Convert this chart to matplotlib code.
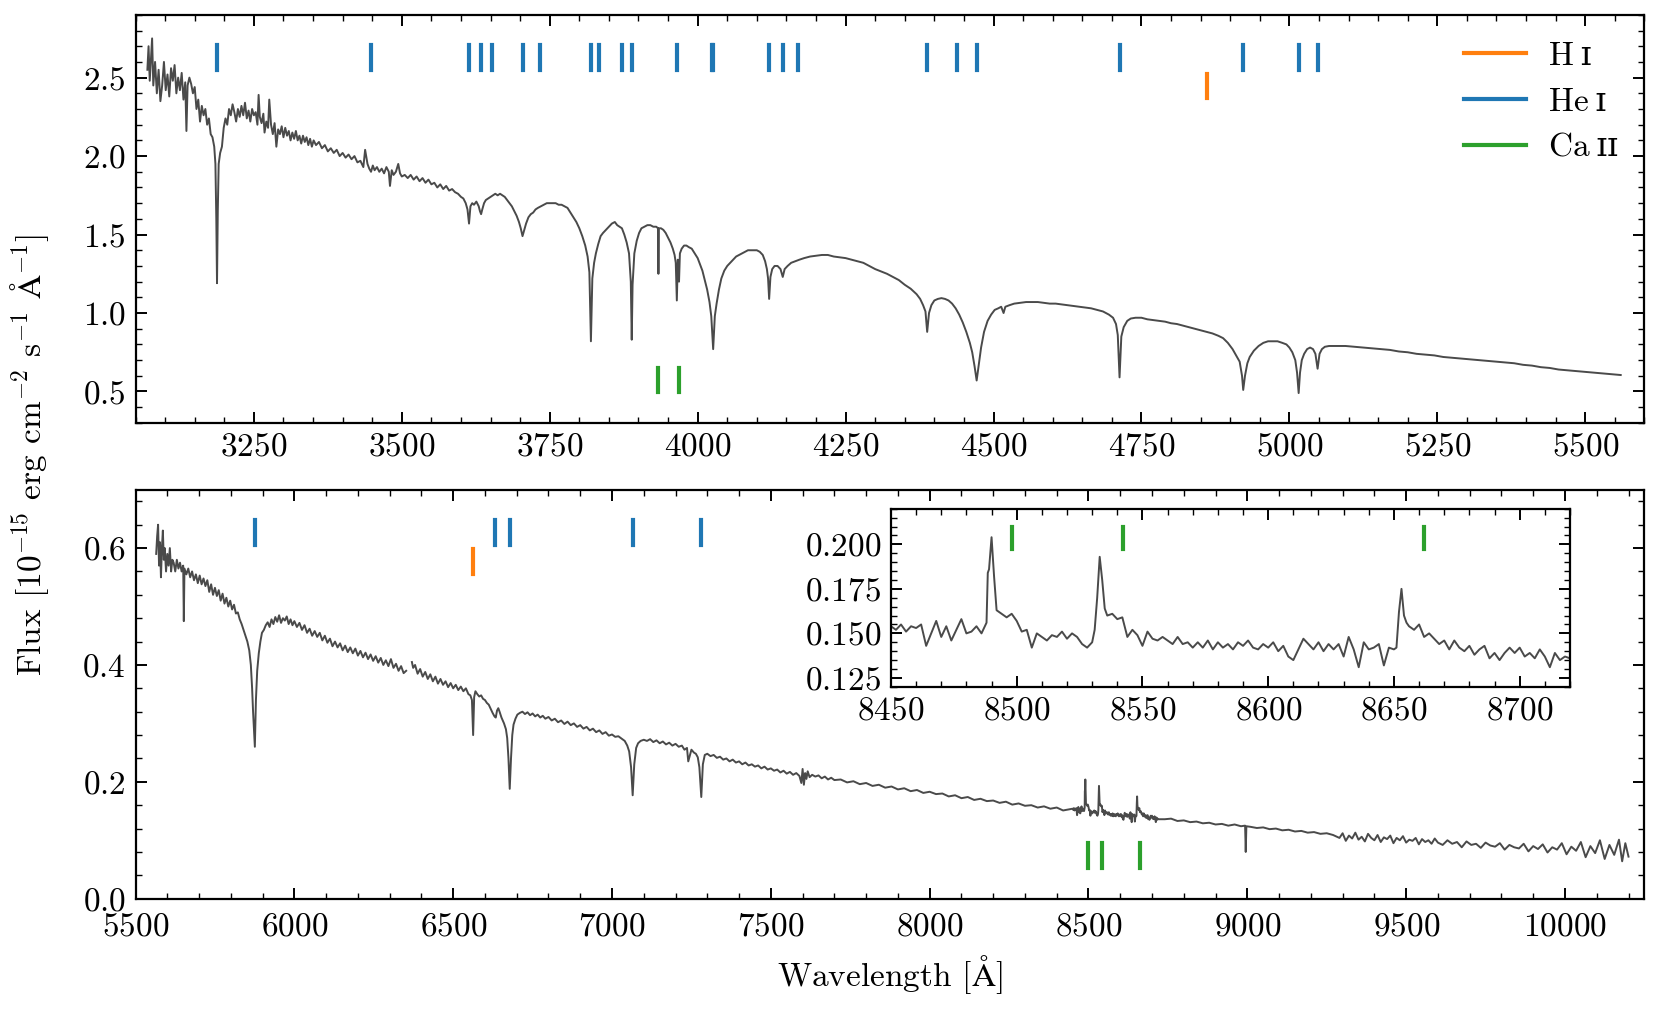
import numpy as np
import matplotlib
matplotlib.use("Agg")
import matplotlib.pyplot as plt
from matplotlib.ticker import MultipleLocator

#============ optical spectrum, blue + red arm, Ca II triplet inset ============

# blue arm (upper panel)
wave_blue = [3070, 3072, 3074, 3076, 3078, 3080, 3083, 3086, 3089, 3092, 3095, 3098,
             3101, 3104, 3107, 3110, 3113, 3116, 3119, 3122, 3125, 3128, 3131, 3134,
             3136, 3138, 3141, 3144, 3147, 3150, 3153, 3156, 3159, 3162, 3165, 3168,
             3171, 3174, 3177, 3180, 3183, 3185, 3186.5, 3187.7, 3189, 3190.5, 3193,
             3196, 3199, 3202, 3205, 3208, 3211, 3214, 3217, 3220, 3223, 3226, 3229,
             3232, 3235, 3238, 3241, 3244, 3247, 3250, 3253, 3256, 3258, 3260, 3263,
             3266, 3268, 3271, 3274, 3276, 3279, 3282, 3285, 3288, 3291, 3294, 3297,
             3300, 3303, 3306, 3309, 3312, 3315, 3318, 3321, 3324, 3327, 3330, 3333,
             3336, 3339, 3342, 3345, 3348, 3351, 3355, 3360, 3365, 3370, 3375, 3380,
             3385, 3390, 3395, 3400, 3405, 3410, 3415, 3420, 3425, 3430, 3435, 3438,
             3442, 3445, 3448, 3451, 3454, 3458, 3462, 3466, 3470, 3474, 3478, 3480,
             3483, 3486, 3490, 3494, 3497, 3500, 3505, 3510, 3515, 3520, 3525, 3530,
             3535, 3540, 3545, 3550, 3555, 3560, 3565, 3570, 3575, 3580, 3585, 3590,
             3595, 3600, 3604, 3608, 3611, 3613.6, 3616, 3619, 3622, 3626, 3630, 3632,
             3634, 3636, 3639, 3642, 3646, 3650, 3654, 3658, 3662, 3666, 3670, 3674,
             3678, 3682, 3686, 3690, 3694, 3698, 3701, 3704, 3707, 3710, 3714, 3718,
             3722, 3726, 3730, 3735, 3740, 3745, 3750, 3755, 3760, 3765, 3770, 3775,
             3780, 3785, 3790, 3795, 3800, 3805, 3810, 3814, 3817, 3819.6, 3822, 3825,
             3828, 3832, 3836, 3840, 3845, 3850, 3855, 3860, 3864, 3868, 3872, 3876,
             3880, 3884, 3887, 3888.6, 3890, 3893, 3897, 3901, 3905, 3910, 3915, 3920,
             3925, 3930, 3933, 3933.7, 3934.5, 3938, 3942, 3946, 3950, 3954, 3958, 3961,
             3963, 3964.8, 3966.5, 3968.5, 3970, 3973, 3977, 3981, 3985, 3990, 3995,
             4000, 4004, 4008, 4012, 4016, 4020, 4023, 4026.2, 4029, 4032, 4036, 4040,
             4045, 4050, 4055, 4060, 4065, 4070, 4075, 4080, 4085, 4090, 4095, 4100,
             4105, 4110, 4114, 4117, 4119, 4120.8, 4123, 4126, 4130, 4135, 4140, 4143.8,
             4147, 4152, 4158, 4165, 4172, 4180, 4190, 4200, 4210, 4220, 4230, 4240,
             4250, 4260, 4270, 4280, 4290, 4300, 4310, 4320, 4330, 4340, 4350, 4360,
             4370, 4376, 4381, 4385, 4387.9, 4391, 4395, 4400, 4406, 4412, 4418, 4424,
             4430, 4436, 4442, 4448, 4454, 4460, 4464, 4468, 4471.5, 4475, 4479, 4484,
             4490, 4496, 4502, 4508, 4513, 4517, 4520, 4527, 4535, 4545, 4555, 4565,
             4575, 4585, 4595, 4605, 4615, 4625, 4635, 4645, 4655, 4665, 4675, 4685,
             4695, 4702, 4707, 4710, 4713, 4716, 4720, 4726, 4732, 4740, 4750, 4760,
             4770, 4780, 4790, 4800, 4810, 4820, 4830, 4840, 4850, 4860, 4870, 4880,
             4888, 4896, 4904, 4910, 4916, 4920, 4922, 4925, 4929, 4933, 4940, 4948,
             4956, 4964, 4972, 4980, 4988, 4995, 5000, 5005, 5010, 5013, 5015.7, 5018,
             5021, 5025, 5030, 5035, 5040, 5044, 5047.7, 5051, 5055, 5060, 5067, 5080,
             5095, 5110, 5125, 5140, 5155, 5170, 5185, 5200, 5215, 5230, 5245, 5260,
             5275, 5290, 5305, 5320, 5335, 5350, 5365, 5380, 5395, 5410, 5425, 5440,
             5455, 5470, 5485, 5500, 5515, 5530, 5545, 5560]
flux_blue = [2.55, 2.70, 2.48, 2.62, 2.75, 2.45, 2.60, 2.40, 2.55, 2.35, 2.45, 2.60,
             2.42, 2.52, 2.38, 2.56, 2.48, 2.58, 2.40, 2.50, 2.42, 2.53, 2.36, 2.47,
             2.16, 2.45, 2.50, 2.46, 2.40, 2.44, 2.30, 2.36, 2.22, 2.32, 2.26, 2.30,
             2.20, 2.24, 2.14, 2.12, 2.06, 1.95, 1.60, 1.19, 1.65, 1.95, 2.02,
             2.06, 2.18, 2.24, 2.20, 2.30, 2.26, 2.33, 2.28, 2.22, 2.30, 2.25, 2.32,
             2.26, 2.34, 2.24, 2.29, 2.22, 2.30, 2.26, 2.28, 2.20, 2.39, 2.25, 2.21,
             2.27, 2.15, 2.22, 2.18, 2.36, 2.20, 2.14, 2.21, 2.06, 2.17, 2.14, 2.19,
             2.12, 2.18, 2.13, 2.16, 2.10, 2.15, 2.11, 2.16, 2.10, 2.13, 2.08, 2.13,
             2.09, 2.12, 2.07, 2.11, 2.06, 2.10, 2.07, 2.09, 2.05, 2.07, 2.03, 2.05,
             2.02, 2.04, 2.00, 2.02, 1.99, 2.01, 1.98, 2.00, 1.96, 1.97, 1.93, 2.04,
             1.95, 1.92, 1.90, 1.94, 1.91, 1.93, 1.90, 1.92, 1.89, 1.93, 1.90, 1.81,
             1.91, 1.88, 1.90, 1.95, 1.89, 1.87, 1.88, 1.86, 1.88, 1.85, 1.87, 1.84,
             1.86, 1.83, 1.85, 1.82, 1.83, 1.80, 1.82, 1.79, 1.81, 1.78, 1.79, 1.77,
             1.76, 1.74, 1.73, 1.70, 1.66, 1.57, 1.68, 1.70, 1.69, 1.71, 1.68, 1.65,
             1.63, 1.66, 1.70, 1.72, 1.73, 1.74, 1.75, 1.76, 1.75, 1.76, 1.75, 1.74,
             1.72, 1.70, 1.68, 1.65, 1.62, 1.58, 1.54, 1.49, 1.53, 1.57, 1.61, 1.63,
             1.64, 1.66, 1.67, 1.68, 1.69, 1.70, 1.70, 1.70, 1.70, 1.69, 1.69, 1.68,
             1.67, 1.64, 1.61, 1.58, 1.54, 1.49, 1.43, 1.36, 1.26, 0.82, 1.22, 1.32,
             1.38, 1.44, 1.49, 1.51, 1.53, 1.55, 1.57, 1.58, 1.56, 1.55, 1.54, 1.50,
             1.45, 1.38, 1.20, 0.83, 1.18, 1.38, 1.46, 1.51, 1.54, 1.55, 1.56, 1.56,
             1.55, 1.55, 1.54, 1.25, 1.54, 1.54, 1.53, 1.51, 1.48, 1.45, 1.41, 1.37,
             1.32, 1.08, 1.34, 1.20, 1.38, 1.41, 1.43, 1.43, 1.42, 1.41, 1.38,
             1.35, 1.31, 1.27, 1.21, 1.15, 1.07, 0.98, 0.77, 0.98, 1.06, 1.15, 1.22,
             1.27, 1.30, 1.32, 1.34, 1.36, 1.37, 1.38, 1.39, 1.40, 1.40, 1.40, 1.40,
             1.39, 1.37, 1.33, 1.28, 1.22, 1.09, 1.23, 1.28, 1.30, 1.30, 1.28, 1.23,
             1.28, 1.30, 1.32, 1.33, 1.34, 1.35, 1.36, 1.365, 1.37, 1.37, 1.36, 1.355,
             1.35, 1.34, 1.33, 1.32, 1.30, 1.28, 1.265, 1.25, 1.23, 1.21, 1.18, 1.155,
             1.12, 1.09, 1.05, 1.01, 0.88, 1.00, 1.05, 1.08, 1.09, 1.095, 1.09, 1.08,
             1.06, 1.03, 0.99, 0.94, 0.88, 0.81, 0.75, 0.66, 0.57, 0.67, 0.78, 0.88,
             0.95, 0.99, 1.02, 1.03, 1.04, 1.00, 1.04, 1.05, 1.06, 1.065, 1.07, 1.07,
             1.07, 1.065, 1.06, 1.06, 1.055, 1.05, 1.045, 1.04, 1.035, 1.03, 1.02, 1.01,
             0.99, 0.97, 0.93, 0.86, 0.59, 0.85, 0.91, 0.95, 0.965, 0.97, 0.97, 0.96,
             0.955, 0.95, 0.945, 0.935, 0.93, 0.92, 0.91, 0.90, 0.89, 0.88, 0.87, 0.855,
             0.84, 0.81, 0.77, 0.73, 0.69, 0.60, 0.51, 0.60, 0.68, 0.72, 0.76, 0.79,
             0.81, 0.82, 0.82, 0.82, 0.81, 0.80, 0.78, 0.75, 0.70, 0.62, 0.49, 0.62,
             0.70, 0.74, 0.77, 0.78, 0.77, 0.74, 0.645, 0.74, 0.77, 0.785, 0.79, 0.79,
             0.79, 0.785, 0.78, 0.775, 0.77, 0.765, 0.755, 0.75, 0.74, 0.735, 0.73, 0.72,
             0.715, 0.71, 0.705, 0.70, 0.695, 0.69, 0.685, 0.68, 0.67, 0.665, 0.655, 0.65,
             0.64, 0.635, 0.63, 0.625, 0.62, 0.615, 0.61, 0.605]

# red arm (lower panel); NaN marks the detector gap
wave_red_a = [5565, 5568, 5571, 5574, 5577, 5580, 5583, 5586, 5589, 5592, 5596, 5600,
              5604, 5608, 5612, 5616, 5620, 5625, 5630, 5635, 5640, 5645, 5650, 5652,
              5654, 5660, 5666, 5672, 5678, 5684, 5690, 5696, 5702, 5708, 5714, 5720,
              5726, 5732, 5738, 5744, 5750, 5756, 5762, 5768, 5774, 5780, 5786, 5792,
              5798, 5804, 5810, 5816, 5822, 5828, 5834, 5840, 5846, 5852, 5858, 5863,
              5867, 5870, 5875.6, 5879, 5883, 5888, 5893, 5898, 5904, 5910, 5916, 5922,
              5928, 5934, 5940, 5946, 5952, 5958, 5964, 5970, 5976, 5982, 5988, 5994,
              6000, 6008, 6016, 6024, 6032, 6040, 6048, 6056, 6064, 6072, 6080, 6088,
              6096, 6104, 6112, 6120, 6128, 6136, 6144, 6152, 6160, 6168, 6176, 6184,
              6192, 6200, 6208, 6216, 6224, 6232, 6240, 6248, 6256, 6264, 6272, 6280,
              6288, 6296, 6304, 6312, 6320, 6328, 6336, 6344, 6352, 6360, 6370, 6374,
              6380, 6388, 6396, 6404, 6412, 6420, 6428, 6436, 6444, 6452, 6460, 6468,
              6476, 6484, 6492, 6500, 6508, 6516, 6524, 6532, 6540, 6548, 6554, 6559,
              6562.8, 6566, 6570, 6576, 6582, 6588, 6594, 6600, 6606, 6612, 6618, 6624,
              6630, 6634, 6638, 6642, 6646, 6652, 6660, 6666, 6670, 6674, 6678, 6682,
              6686, 6690, 6696, 6702, 6710, 6718, 6726, 6734, 6742, 6750, 6758, 6766,
              6774, 6782, 6790, 6800, 6810, 6820, 6830, 6840, 6850, 6860, 6870, 6880,
              6890, 6900, 6910, 6920, 6930, 6940, 6950, 6960, 6970, 6980, 6990, 7000,
              7010, 7020, 7030, 7040, 7048, 7054, 7060, 7065, 7070, 7076, 7082, 7090,
              7100, 7110, 7120, 7130, 7140, 7150, 7160, 7170, 7180, 7190, 7200, 7210,
              7220, 7228, 7236, 7240, 7250, 7258, 7264, 7270, 7275, 7281, 7286, 7292,
              7300, 7310, 7320, 7330, 7340, 7350, 7360, 7370, 7380, 7390, 7400, 7410,
              7420, 7430, 7440, 7450, 7460, 7470, 7480, 7490, 7500, 7510, 7520, 7530,
              7540, 7550, 7560, 7570, 7580, 7590, 7596, 7600, 7604, 7608, 7612, 7616,
              7622, 7630, 7640, 7650, 7660, 7670, 7680, 7690, 7700, 7720, 7740, 7760,
              7780, 7800, 7820, 7840, 7860, 7880, 7900, 7920, 7940, 7960, 7980, 8000,
              8020, 8040, 8060, 8080, 8100, 8120, 8140, 8160, 8180, 8200, 8220, 8240,
              8260, 8280, 8300, 8320, 8340, 8360, 8380, 8400, 8420, 8440]
flux_red_a = [0.59, 0.62, 0.64, 0.57, 0.61, 0.55, 0.60, 0.63, 0.58, 0.60, 0.56, 0.59,
              0.57, 0.60, 0.56, 0.58, 0.575, 0.56, 0.58, 0.565, 0.575, 0.56, 0.57, 0.475,
              0.565, 0.555, 0.565, 0.55, 0.56, 0.545, 0.555, 0.54, 0.553, 0.538, 0.548, 0.535,
              0.545, 0.525, 0.538, 0.52, 0.532, 0.518, 0.528, 0.51, 0.522, 0.505, 0.515, 0.50,
              0.51, 0.495, 0.503, 0.488, 0.49, 0.478, 0.47, 0.46, 0.45, 0.44, 0.425, 0.40,
              0.36, 0.32, 0.26, 0.34, 0.39, 0.42, 0.44, 0.455, 0.46, 0.468, 0.473, 0.465,
              0.478, 0.47, 0.482, 0.474, 0.485, 0.472, 0.48, 0.476, 0.483, 0.47, 0.478, 0.468,
              0.475, 0.465, 0.472, 0.46, 0.468, 0.455, 0.462, 0.45, 0.458, 0.448, 0.455, 0.442,
              0.45, 0.438, 0.445, 0.432, 0.44, 0.43, 0.437, 0.425, 0.433, 0.422, 0.43, 0.42,
              0.428, 0.416, 0.424, 0.413, 0.421, 0.41, 0.418, 0.407, 0.415, 0.404, 0.412, 0.40,
              0.408, 0.398, 0.41, 0.395, 0.402, 0.39, 0.398, 0.386, 0.39, np.nan, 0.405, 0.395,
              0.40, 0.385, 0.393, 0.38, 0.388, 0.376, 0.384, 0.372, 0.38, 0.368, 0.376, 0.366,
              0.372, 0.362, 0.369, 0.36, 0.366, 0.357, 0.363, 0.355, 0.36, 0.35, 0.348, 0.34,
              0.28, 0.345, 0.355, 0.35, 0.346, 0.348, 0.342, 0.34, 0.335, 0.332, 0.325, 0.318,
              0.312, 0.31, 0.322, 0.326, 0.32, 0.31, 0.30, 0.29, 0.275, 0.24, 0.188, 0.24,
              0.28, 0.298, 0.308, 0.315, 0.318, 0.32, 0.316, 0.319, 0.314, 0.317, 0.312, 0.315,
              0.31, 0.313, 0.308, 0.311, 0.305, 0.308, 0.302, 0.305, 0.299, 0.303, 0.297, 0.30,
              0.294, 0.297, 0.291, 0.294, 0.288, 0.291, 0.285, 0.288, 0.282, 0.285, 0.279, 0.281,
              0.277, 0.278, 0.274, 0.27, 0.262, 0.252, 0.225, 0.177, 0.23, 0.258, 0.266, 0.27,
              0.272, 0.27, 0.273, 0.268, 0.271, 0.266, 0.269, 0.264, 0.267, 0.262, 0.265, 0.26,
              0.262, 0.255, 0.258, 0.235, 0.255, 0.25, 0.248, 0.242, 0.225, 0.174, 0.23, 0.246,
              0.248, 0.244, 0.246, 0.241, 0.243, 0.238, 0.24, 0.235, 0.238, 0.233, 0.235, 0.23,
              0.233, 0.228, 0.23, 0.226, 0.228, 0.223, 0.226, 0.221, 0.223, 0.219, 0.221, 0.216,
              0.219, 0.214, 0.217, 0.212, 0.215, 0.21, 0.198, 0.222, 0.195, 0.215, 0.205, 0.218,
              0.208, 0.212, 0.209, 0.211, 0.206, 0.209, 0.204, 0.207, 0.203, 0.204, 0.199, 0.201,
              0.196, 0.198, 0.193, 0.195, 0.19, 0.192, 0.187, 0.189, 0.184, 0.186, 0.181, 0.183,
              0.179, 0.18, 0.175, 0.177, 0.172, 0.174, 0.169, 0.171, 0.167, 0.168, 0.164, 0.166,
              0.161, 0.163, 0.159, 0.16, 0.156, 0.158, 0.154, 0.156, 0.151, 0.153]

# Ca II triplet region (also shown in the inset)
wave_ca = [8450, 8452, 8454, 8456, 8458, 8460, 8462, 8464, 8466, 8468, 8470, 8472,
           8474, 8476, 8478, 8480, 8482, 8484, 8486, 8488, 8488.5, 8489, 8490, 8491,
           8492, 8494, 8496, 8498, 8500, 8502, 8504, 8506, 8508, 8510, 8512, 8514,
           8516, 8518, 8520, 8522, 8524, 8526, 8528, 8530, 8531, 8532, 8533, 8534,
           8535, 8536, 8538, 8540, 8542, 8544, 8546, 8548, 8550, 8552, 8554, 8556,
           8558, 8560, 8562, 8564, 8566, 8568, 8570, 8572, 8574, 8576, 8578, 8580,
           8582, 8584, 8586, 8588, 8590, 8592, 8594, 8596, 8598, 8600, 8602, 8604,
           8606, 8608, 8610, 8612, 8614, 8616, 8618, 8620, 8622, 8624, 8626, 8628,
           8630, 8632, 8634, 8636, 8638, 8640, 8642, 8644, 8646, 8648, 8650, 8651,
           8652, 8653, 8654, 8655, 8656, 8658, 8660, 8662, 8664, 8666, 8668, 8670,
           8672, 8674, 8676, 8678, 8680, 8682, 8684, 8686, 8688, 8690, 8692, 8694,
           8696, 8698, 8700, 8702, 8704, 8706, 8708, 8710, 8712, 8714, 8716, 8718,
           8720]
flux_ca = [0.154, 0.152, 0.155, 0.151, 0.154, 0.153, 0.155, 0.143, 0.150, 0.157, 0.148, 0.154,
           0.146, 0.152, 0.158, 0.150, 0.151, 0.154, 0.150, 0.156, 0.184, 0.186, 0.204, 0.182,
           0.163, 0.161, 0.159, 0.161, 0.157, 0.151, 0.152, 0.142, 0.150, 0.148, 0.146, 0.149,
           0.148, 0.151, 0.147, 0.150, 0.148, 0.144, 0.142, 0.145, 0.152, 0.170, 0.193, 0.180,
           0.164, 0.160, 0.161, 0.158, 0.159, 0.148, 0.152, 0.149, 0.143, 0.151, 0.147, 0.146,
           0.148, 0.146, 0.144, 0.148, 0.144, 0.145, 0.142, 0.145, 0.142, 0.146, 0.141, 0.145,
           0.142, 0.144, 0.141, 0.145, 0.143, 0.146, 0.142, 0.141, 0.144, 0.142, 0.145, 0.140,
           0.143, 0.137, 0.135, 0.141, 0.147, 0.144, 0.141, 0.145, 0.140, 0.144, 0.141, 0.144,
           0.137, 0.148, 0.141, 0.131, 0.145, 0.141, 0.142, 0.144, 0.132, 0.142, 0.141, 0.142,
           0.162, 0.175, 0.160, 0.156, 0.154, 0.152, 0.155, 0.148, 0.150, 0.147, 0.144, 0.146,
           0.141, 0.146, 0.142, 0.140, 0.143, 0.138, 0.141, 0.143, 0.136, 0.139, 0.135, 0.139,
           0.142, 0.139, 0.142, 0.137, 0.139, 0.136, 0.141, 0.137, 0.131, 0.139, 0.135, 0.137,
           0.136]

wave_red_b = [8740, 8760, 8780, 8800, 8820, 8840, 8860, 8880, 8900, 8920, 8940, 8960,
              8980, 8993, 8995, 8997, 9010, 9030, 9050, 9070, 9090, 9110, 9130, 9150,
              9170, 9190, 9210, 9230, 9250, 9270, 9290, 9300, 9310, 9320, 9330, 9340,
              9350, 9360, 9370, 9380, 9390, 9400, 9410, 9420, 9430, 9440, 9450, 9460,
              9470, 9480, 9490, 9500, 9510, 9520, 9530, 9540, 9550, 9560, 9570, 9580,
              9590, 9600, 9615, 9630, 9645, 9660, 9675, 9690, 9705, 9720, 9735, 9750,
              9765, 9780, 9795, 9810, 9825, 9840, 9855, 9870, 9885, 9900, 9915, 9930,
              9945, 9960, 9975, 9990, 10005, 10020, 10035, 10050, 10065, 10080, 10095, 10110,
              10125, 10140, 10155, 10170, 10180, 10190, 10200]
flux_red_b = [0.136, 0.137, 0.133, 0.134, 0.131, 0.132, 0.129, 0.13, 0.127, 0.128, 0.125, 0.127,
              0.124, 0.125, 0.08, 0.124, 0.123, 0.121, 0.122, 0.119, 0.12, 0.117, 0.118, 0.115,
              0.116, 0.113, 0.114, 0.111, 0.112, 0.109, 0.104, 0.112, 0.099, 0.108, 0.103, 0.113,
              0.101, 0.106, 0.098, 0.111, 0.104, 0.10, 0.109, 0.097, 0.105, 0.102, 0.108, 0.095,
              0.104, 0.10, 0.107, 0.096, 0.101, 0.099, 0.104, 0.093, 0.102, 0.097, 0.10, 0.094,
              0.103, 0.096, 0.092, 0.10, 0.094, 0.097, 0.088, 0.098, 0.092, 0.094, 0.087, 0.096,
              0.091, 0.089, 0.095, 0.084, 0.092, 0.088, 0.086, 0.094, 0.081, 0.09, 0.085, 0.093,
              0.079, 0.088, 0.084, 0.095, 0.076, 0.089, 0.082, 0.097, 0.071, 0.09, 0.078, 0.10,
              0.068, 0.092, 0.075, 0.101, 0.064, 0.095, 0.072]

# line identifications [Angstrom]
lines_HI = [4861.3, 6562.8]
lines_HeI = [3187.7, 3447.6, 3613.6, 3634.2, 3651.9, 3705.0, 3732.9, 3819.6, 3833.6,
             3871.8, 3888.6, 3964.7, 4024.0, 4026.2, 4120.8, 4143.8, 4168.9, 4387.9,
             4437.6, 4471.5, 4713.1, 4921.9, 5015.7, 5047.7,
             5875.6, 6632.9, 6678.2, 7065.2, 7281.4]
lines_CaII = [3933.7, 3968.5, 8498.0, 8542.1, 8662.1]

wave_red = np.concatenate([wave_red_a, wave_ca, wave_red_b])
flux_red = np.concatenate([flux_red_a, flux_ca, flux_red_b])

plt.rcParams['font.family'] = 'serif'
plt.rcParams['font.serif'] = ['cmr10']
plt.rcParams['mathtext.fontset'] = 'cm'
plt.rcParams['axes.unicode_minus'] = False
plt.rcParams['axes.formatter.use_mathtext'] = True
plt.rcParams['font.size'] = 12
plt.rcParams['axes.linewidth'] = 0.8
plt.rcParams['xtick.direction'] = 'in'
plt.rcParams['ytick.direction'] = 'in'
plt.rcParams['xtick.top'] = True
plt.rcParams['ytick.right'] = True
plt.rcParams['xtick.major.size'] = 4
plt.rcParams['ytick.major.size'] = 4
plt.rcParams['xtick.minor.size'] = 2
plt.rcParams['ytick.minor.size'] = 2
plt.rcParams['xtick.major.width'] = 0.7
plt.rcParams['ytick.major.width'] = 0.7
plt.rcParams['xtick.minor.width'] = 0.5
plt.rcParams['ytick.minor.width'] = 0.5
plt.rcParams['xtick.minor.visible'] = True
plt.rcParams['ytick.minor.visible'] = True

spec_col = '#4a4a4a'
col = {'H': 'tab:orange', 'He': 'tab:blue', 'Ca': 'tab:green'}

fig = plt.figure(figsize=[8.305, 5.05], dpi=200)
ax1 = fig.add_axes([0.0816, 0.5813, 0.9084, 0.404])
ax2 = fig.add_axes([0.0816, 0.1102, 0.9084, 0.405])
axin = fig.add_axes([0.5364, 0.320, 0.4088, 0.1763])


def mark(ax, waves, c, y0, y1, lo, hi):
    for w in waves:
        if lo < w < hi:
            ax.axvline(w, ymin=y0, ymax=y1, color=c, lw=1.5)


ax1.plot(wave_blue, flux_blue, c=spec_col, lw=0.7)
mark(ax1, lines_HeI, col['He'], 0.865, 0.925, 3050, 5600)
mark(ax1, lines_HI, col['H'], 0.795, 0.855, 3050, 5600)
mark(ax1, lines_CaII, col['Ca'], 0.075, 0.135, 3050, 5600)
ax1.set_xlim(3050, 5600)
ax1.set_ylim(0.3, 2.9)
ax1.xaxis.set_major_locator(MultipleLocator(250))
ax1.xaxis.set_minor_locator(MultipleLocator(50))
ax1.yaxis.set_major_locator(MultipleLocator(0.5))
ax1.yaxis.set_minor_locator(MultipleLocator(0.1))

h_H, = ax1.plot([], [], c=col['H'], lw=1.5, label='H\u2009\u026a')
h_He, = ax1.plot([], [], c=col['He'], lw=1.5, label='He\u2009\u026a')
h_Ca, = ax1.plot([], [], c=col['Ca'], lw=1.5, label='Ca\u2009\u026a\u026a')
ax1.legend(handles=[h_H, h_He, h_Ca], loc='upper right', frameon=False,
           prop={'family': ['cmr10', 'DejaVu Serif'], 'size': 12},
           handlelength=1.85, handletextpad=0.7, labelspacing=0.5,
           borderaxespad=0.4)

ax2.plot(wave_red, flux_red, c=spec_col, lw=0.7)
mark(ax2, lines_HeI, col['He'], 0.865, 0.925, 5500, 10250)
mark(ax2, lines_HI, col['H'], 0.795, 0.855, 5500, 10250)
mark(ax2, lines_CaII, col['Ca'], 0.075, 0.135, 5500, 10250)
ax2.set_xlim(5500, 10250)
ax2.set_ylim(0.0, 0.7)
ax2.xaxis.set_major_locator(MultipleLocator(500))
ax2.xaxis.set_minor_locator(MultipleLocator(100))
ax2.yaxis.set_major_locator(MultipleLocator(0.2))
ax2.yaxis.set_minor_locator(MultipleLocator(0.04))
ax2.tick_params(axis='x', which='major', pad=5)
ax2.set_xlabel(r'Wavelength [$\mathrm{\AA}$]')

axin.plot(wave_red, flux_red, c=spec_col, lw=0.7)
mark(axin, lines_CaII, col['Ca'], 0.775, 0.9, 8450, 8720)
axin.set_xlim(8450, 8720)
axin.set_ylim(0.12, 0.22)
axin.xaxis.set_major_locator(MultipleLocator(50))
axin.xaxis.set_minor_locator(MultipleLocator(10))
axin.yaxis.set_major_locator(MultipleLocator(0.025))
axin.yaxis.set_minor_locator(MultipleLocator(0.005))

fig.text(0.018, 0.55, r'Flux [$10^{-15}$ erg cm$^{-2}$ s$^{-1}$ $\mathrm{\AA}^{-1}$]',
         rotation=90, ha='center', va='center')

plt.savefig('out.png', dpi=200)
plt.close(fig)
